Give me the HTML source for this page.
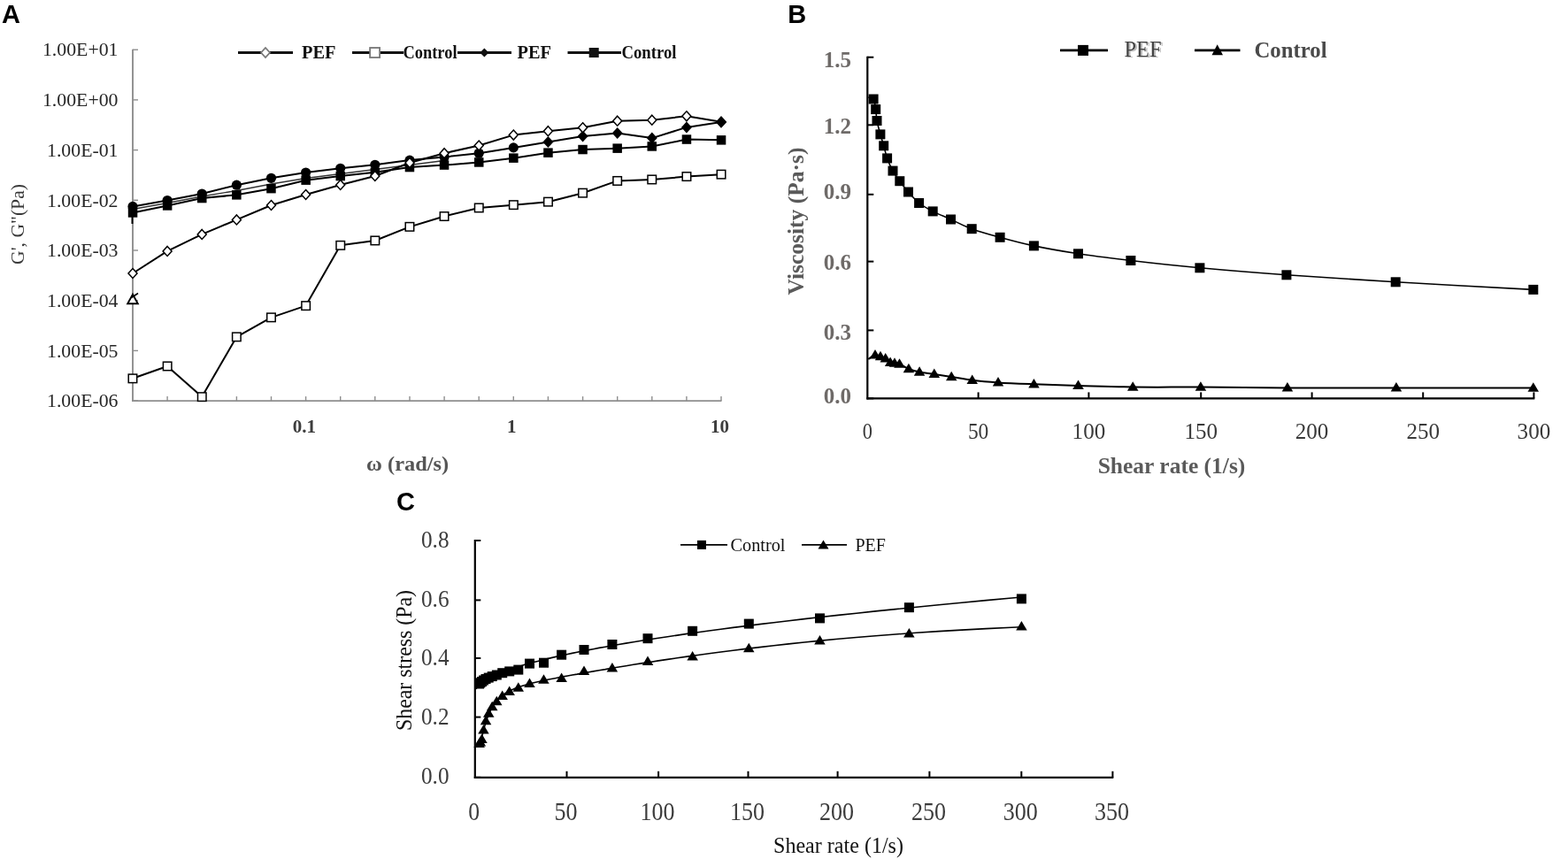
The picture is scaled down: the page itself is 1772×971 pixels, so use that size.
<!DOCTYPE html>
<html><head><meta charset="utf-8"><title>Rheology figure</title>
<style>html,body{margin:0;padding:0;background:#fff;overflow:hidden}svg{display:block}</style>
</head><body>
<svg width="1772" height="971" viewBox="0 0 1772 971">
<rect width="1772" height="971" fill="#fff"/>
<text x="2" y="26.4" font-family="Liberation Sans, Arial, sans-serif" font-size="29" font-weight="bold" fill="#000">A</text>
<text x="890.2" y="26.2" font-family="Liberation Sans, Arial, sans-serif" font-size="29" font-weight="bold" fill="#000">B</text>
<text x="448" y="576.6" font-family="Liberation Sans, Arial, sans-serif" font-size="29" font-weight="bold" fill="#000">C</text>
<line x1="150.0" y1="55.7" x2="150.0" y2="454.0" stroke="#8e8e8e" stroke-width="1.9"/>
<line x1="149.1" y1="453.1" x2="815.5" y2="453.1" stroke="#8e8e8e" stroke-width="1.9"/>
<line x1="150.0" y1="56.2" x2="156.0" y2="56.2" stroke="#8e8e8e" stroke-width="1.4"/>
<text x="133.5" y="63.4" font-family="Liberation Serif, Times New Roman, serif" font-size="21.8" font-weight="normal" fill="#262626" text-anchor="end" >1.00E+01</text>
<line x1="150.0" y1="112.9" x2="156.0" y2="112.9" stroke="#8e8e8e" stroke-width="1.4"/>
<text x="133.5" y="120.1" font-family="Liberation Serif, Times New Roman, serif" font-size="21.8" font-weight="normal" fill="#262626" text-anchor="end" >1.00E+00</text>
<line x1="150.0" y1="169.6" x2="156.0" y2="169.6" stroke="#8e8e8e" stroke-width="1.4"/>
<text x="133.5" y="176.8" font-family="Liberation Serif, Times New Roman, serif" font-size="21.8" font-weight="normal" fill="#262626" text-anchor="end" >1.00E-01</text>
<line x1="150.0" y1="226.3" x2="156.0" y2="226.3" stroke="#8e8e8e" stroke-width="1.4"/>
<text x="133.5" y="233.5" font-family="Liberation Serif, Times New Roman, serif" font-size="21.8" font-weight="normal" fill="#262626" text-anchor="end" >1.00E-02</text>
<line x1="150.0" y1="283.0" x2="156.0" y2="283.0" stroke="#8e8e8e" stroke-width="1.4"/>
<text x="133.5" y="290.2" font-family="Liberation Serif, Times New Roman, serif" font-size="21.8" font-weight="normal" fill="#262626" text-anchor="end" >1.00E-03</text>
<line x1="150.0" y1="339.7" x2="156.0" y2="339.7" stroke="#8e8e8e" stroke-width="1.4"/>
<text x="133.5" y="346.9" font-family="Liberation Serif, Times New Roman, serif" font-size="21.8" font-weight="normal" fill="#262626" text-anchor="end" >1.00E-04</text>
<line x1="150.0" y1="396.4" x2="156.0" y2="396.4" stroke="#8e8e8e" stroke-width="1.4"/>
<text x="133.5" y="403.6" font-family="Liberation Serif, Times New Roman, serif" font-size="21.8" font-weight="normal" fill="#262626" text-anchor="end" >1.00E-05</text>
<line x1="150.0" y1="453.1" x2="156.0" y2="453.1" stroke="#8e8e8e" stroke-width="1.4"/>
<text x="133.5" y="460.3" font-family="Liberation Serif, Times New Roman, serif" font-size="21.8" font-weight="normal" fill="#262626" text-anchor="end" >1.00E-06</text>
<line x1="189.1" y1="453.1" x2="189.1" y2="448.1" stroke="#8e8e8e" stroke-width="1.4"/>
<line x1="228.2" y1="453.1" x2="228.2" y2="448.1" stroke="#8e8e8e" stroke-width="1.4"/>
<line x1="267.4" y1="453.1" x2="267.4" y2="448.1" stroke="#8e8e8e" stroke-width="1.4"/>
<line x1="306.5" y1="453.1" x2="306.5" y2="448.1" stroke="#8e8e8e" stroke-width="1.4"/>
<line x1="345.6" y1="453.1" x2="345.6" y2="448.1" stroke="#8e8e8e" stroke-width="1.4"/>
<line x1="384.7" y1="453.1" x2="384.7" y2="448.1" stroke="#8e8e8e" stroke-width="1.4"/>
<line x1="423.8" y1="453.1" x2="423.8" y2="448.1" stroke="#8e8e8e" stroke-width="1.4"/>
<line x1="463.0" y1="453.1" x2="463.0" y2="448.1" stroke="#8e8e8e" stroke-width="1.4"/>
<line x1="502.1" y1="453.1" x2="502.1" y2="448.1" stroke="#8e8e8e" stroke-width="1.4"/>
<line x1="541.2" y1="453.1" x2="541.2" y2="448.1" stroke="#8e8e8e" stroke-width="1.4"/>
<line x1="580.3" y1="453.1" x2="580.3" y2="448.1" stroke="#8e8e8e" stroke-width="1.4"/>
<line x1="619.4" y1="453.1" x2="619.4" y2="448.1" stroke="#8e8e8e" stroke-width="1.4"/>
<line x1="658.6" y1="453.1" x2="658.6" y2="448.1" stroke="#8e8e8e" stroke-width="1.4"/>
<line x1="697.7" y1="453.1" x2="697.7" y2="448.1" stroke="#8e8e8e" stroke-width="1.4"/>
<line x1="736.8" y1="453.1" x2="736.8" y2="448.1" stroke="#8e8e8e" stroke-width="1.4"/>
<line x1="775.9" y1="453.1" x2="775.9" y2="448.1" stroke="#8e8e8e" stroke-width="1.4"/>
<line x1="815.0" y1="453.1" x2="815.0" y2="448.1" stroke="#8e8e8e" stroke-width="1.4"/>
<text x="343.8" y="489.2" font-family="Liberation Serif, Times New Roman, serif" font-size="21" font-weight="bold" fill="#3d3d3d" text-anchor="middle" >0.1</text>
<text x="578.3" y="489.2" font-family="Liberation Serif, Times New Roman, serif" font-size="21" font-weight="bold" fill="#3d3d3d" text-anchor="middle" >1</text>
<text x="813.5" y="489.2" font-family="Liberation Serif, Times New Roman, serif" font-size="21" font-weight="bold" fill="#3d3d3d" text-anchor="middle" >10</text>
<text x="460.6" y="532.0" font-family="Liberation Serif, Times New Roman, serif" font-size="22.5" font-weight="bold" fill="#555" text-anchor="middle" textLength="93" lengthAdjust="spacingAndGlyphs" >ω (rad/s)</text>
<text transform="translate(26.8,253.5) rotate(-90)" x="0" y="0" font-family="Liberation Serif, Times New Roman, serif" font-size="21.7" fill="#383838" text-anchor="middle">G', G"(Pa)</text>
<polyline points="150.0,236.5 189.1,229.5 228.2,222.0 267.4,215.5 306.5,208.0 345.6,201.5 384.7,196.5 423.8,191.5 463.0,186.5 502.1,181.5" fill="none" stroke="#333" stroke-width="1.3" stroke-linejoin="round" />
<polyline points="150.0,240.5 189.1,232.5 228.2,224.0 267.4,220.3 306.5,213.2 345.6,203.7 384.7,199.0 423.8,194.8 463.0,189.0 502.1,186.6 541.2,183.5 580.3,178.7 619.4,172.7 658.6,169.1 697.7,167.7 736.8,165.5 775.9,157.6 815.0,158.3" fill="none" stroke="#000" stroke-width="2" stroke-linejoin="round" />
<polyline points="150.0,233.4 189.1,226.5 228.2,219.0 267.4,209.2 306.5,201.3 345.6,195.0 384.7,190.3 423.8,186.3 463.0,181.1 502.1,177.5 541.2,173.2 580.3,166.9 619.4,160.5 658.6,154.0 697.7,150.4 736.8,156.1 775.9,143.9 815.0,138.1" fill="none" stroke="#000" stroke-width="2" stroke-linejoin="round" />
<polyline points="150.0,309.0 189.1,283.9 228.2,264.9 267.4,248.4 306.5,232.0 345.6,220.0 384.7,209.0 423.8,199.0 463.0,184.0 502.1,173.2 541.2,164.5 580.3,152.6 619.4,148.2 658.6,144.3 697.7,136.7 736.8,135.7 775.9,131.3 815.0,137.8" fill="none" stroke="#000" stroke-width="2" stroke-linejoin="round" />
<polyline points="150.0,427.8 189.1,414.0 228.2,448.6 267.4,380.8 306.5,358.9 345.6,345.6 384.7,277.3 423.8,272.0 463.0,256.4 502.1,244.5 541.2,235.0 580.3,231.7 619.4,228.2 658.6,218.2 697.7,204.4 736.8,203.0 775.9,199.6 815.0,197.2" fill="none" stroke="#000" stroke-width="2" stroke-linejoin="round" />
<rect x="144.8" y="235.2" width="10.5" height="10.5" fill="#000" stroke="none" stroke-width="0"/>
<rect x="183.9" y="227.2" width="10.5" height="10.5" fill="#000" stroke="none" stroke-width="0"/>
<rect x="223.0" y="218.8" width="10.5" height="10.5" fill="#000" stroke="none" stroke-width="0"/>
<rect x="262.1" y="215.1" width="10.5" height="10.5" fill="#000" stroke="none" stroke-width="0"/>
<rect x="301.2" y="207.9" width="10.5" height="10.5" fill="#000" stroke="none" stroke-width="0"/>
<rect x="340.4" y="198.4" width="10.5" height="10.5" fill="#000" stroke="none" stroke-width="0"/>
<rect x="379.5" y="193.8" width="10.5" height="10.5" fill="#000" stroke="none" stroke-width="0"/>
<rect x="418.6" y="189.6" width="10.5" height="10.5" fill="#000" stroke="none" stroke-width="0"/>
<rect x="457.7" y="183.8" width="10.5" height="10.5" fill="#000" stroke="none" stroke-width="0"/>
<rect x="496.8" y="181.3" width="10.5" height="10.5" fill="#000" stroke="none" stroke-width="0"/>
<rect x="536.0" y="178.2" width="10.5" height="10.5" fill="#000" stroke="none" stroke-width="0"/>
<rect x="575.1" y="173.4" width="10.5" height="10.5" fill="#000" stroke="none" stroke-width="0"/>
<rect x="614.2" y="167.4" width="10.5" height="10.5" fill="#000" stroke="none" stroke-width="0"/>
<rect x="653.3" y="163.8" width="10.5" height="10.5" fill="#000" stroke="none" stroke-width="0"/>
<rect x="692.4" y="162.4" width="10.5" height="10.5" fill="#000" stroke="none" stroke-width="0"/>
<rect x="731.5" y="160.2" width="10.5" height="10.5" fill="#000" stroke="none" stroke-width="0"/>
<rect x="770.7" y="152.3" width="10.5" height="10.5" fill="#000" stroke="none" stroke-width="0"/>
<rect x="809.8" y="153.1" width="10.5" height="10.5" fill="#000" stroke="none" stroke-width="0"/>
<circle cx="150.0" cy="233.4" r="5.6" fill="#000"/>
<circle cx="189.1" cy="226.5" r="5.6" fill="#000"/>
<circle cx="228.2" cy="219.0" r="5.6" fill="#000"/>
<circle cx="267.4" cy="209.2" r="5.6" fill="#000"/>
<circle cx="306.5" cy="201.3" r="5.6" fill="#000"/>
<circle cx="345.6" cy="195.0" r="5.6" fill="#000"/>
<circle cx="384.7" cy="190.3" r="5.6" fill="#000"/>
<circle cx="423.8" cy="186.3" r="5.6" fill="#000"/>
<circle cx="463.0" cy="181.1" r="5.6" fill="#000"/>
<circle cx="502.1" cy="177.5" r="5.6" fill="#000"/>
<circle cx="541.2" cy="173.2" r="5.6" fill="#000"/>
<circle cx="580.3" cy="166.9" r="5.6" fill="#000"/>
<polygon points="619.4,154.0 625.4,160.5 619.4,167.0 613.4,160.5" fill="#000" stroke="none" stroke-width="0"/>
<polygon points="658.6,147.5 664.6,154.0 658.6,160.5 652.6,154.0" fill="#000" stroke="none" stroke-width="0"/>
<polygon points="697.7,143.9 703.7,150.4 697.7,156.9 691.7,150.4" fill="#000" stroke="none" stroke-width="0"/>
<polygon points="736.8,149.6 742.8,156.1 736.8,162.6 730.8,156.1" fill="#000" stroke="none" stroke-width="0"/>
<polygon points="775.9,137.4 781.9,143.9 775.9,150.4 769.9,143.9" fill="#000" stroke="none" stroke-width="0"/>
<polygon points="815.0,131.6 821.0,138.1 815.0,144.6 809.0,138.1" fill="#000" stroke="none" stroke-width="0"/>
<polygon points="150.0,303.5 155.0,309.0 150.0,314.5 145.0,309.0" fill="#fff" stroke="#000" stroke-width="1.5"/>
<polygon points="189.1,278.4 194.1,283.9 189.1,289.4 184.1,283.9" fill="#fff" stroke="#000" stroke-width="1.5"/>
<polygon points="228.2,259.4 233.2,264.9 228.2,270.4 223.2,264.9" fill="#fff" stroke="#000" stroke-width="1.5"/>
<polygon points="267.4,242.9 272.4,248.4 267.4,253.9 262.4,248.4" fill="#fff" stroke="#000" stroke-width="1.5"/>
<polygon points="306.5,226.5 311.5,232.0 306.5,237.5 301.5,232.0" fill="#fff" stroke="#000" stroke-width="1.5"/>
<polygon points="345.6,214.5 350.6,220.0 345.6,225.5 340.6,220.0" fill="#fff" stroke="#000" stroke-width="1.5"/>
<polygon points="384.7,203.5 389.7,209.0 384.7,214.5 379.7,209.0" fill="#fff" stroke="#000" stroke-width="1.5"/>
<polygon points="423.8,193.5 428.8,199.0 423.8,204.5 418.8,199.0" fill="#fff" stroke="#000" stroke-width="1.5"/>
<polygon points="463.0,178.5 468.0,184.0 463.0,189.5 458.0,184.0" fill="#fff" stroke="#000" stroke-width="1.5"/>
<polygon points="502.1,167.7 507.1,173.2 502.1,178.7 497.1,173.2" fill="#fff" stroke="#000" stroke-width="1.5"/>
<polygon points="541.2,159.0 546.2,164.5 541.2,170.0 536.2,164.5" fill="#fff" stroke="#000" stroke-width="1.5"/>
<polygon points="580.3,147.1 585.3,152.6 580.3,158.1 575.3,152.6" fill="#fff" stroke="#000" stroke-width="1.5"/>
<polygon points="619.4,142.7 624.4,148.2 619.4,153.7 614.4,148.2" fill="#fff" stroke="#000" stroke-width="1.5"/>
<polygon points="658.6,138.8 663.6,144.3 658.6,149.8 653.6,144.3" fill="#fff" stroke="#000" stroke-width="1.5"/>
<polygon points="697.7,131.2 702.7,136.7 697.7,142.2 692.7,136.7" fill="#fff" stroke="#000" stroke-width="1.5"/>
<polygon points="736.8,130.2 741.8,135.7 736.8,141.2 731.8,135.7" fill="#fff" stroke="#000" stroke-width="1.5"/>
<polygon points="775.9,125.8 780.9,131.3 775.9,136.8 770.9,131.3" fill="#fff" stroke="#000" stroke-width="1.5"/>
<polygon points="815.0,132.3 820.0,137.8 815.0,143.3 810.0,137.8" fill="#fff" stroke="#000" stroke-width="1.5"/>
<rect x="145.2" y="423.1" width="9.5" height="9.5" fill="#fff" stroke="#000" stroke-width="1.5"/>
<rect x="184.4" y="409.2" width="9.5" height="9.5" fill="#fff" stroke="#000" stroke-width="1.5"/>
<rect x="223.5" y="443.9" width="9.5" height="9.5" fill="#fff" stroke="#000" stroke-width="1.5"/>
<rect x="262.6" y="376.1" width="9.5" height="9.5" fill="#fff" stroke="#000" stroke-width="1.5"/>
<rect x="301.7" y="354.1" width="9.5" height="9.5" fill="#fff" stroke="#000" stroke-width="1.5"/>
<rect x="340.9" y="340.9" width="9.5" height="9.5" fill="#fff" stroke="#000" stroke-width="1.5"/>
<rect x="380.0" y="272.6" width="9.5" height="9.5" fill="#fff" stroke="#000" stroke-width="1.5"/>
<rect x="419.1" y="267.2" width="9.5" height="9.5" fill="#fff" stroke="#000" stroke-width="1.5"/>
<rect x="458.2" y="251.6" width="9.5" height="9.5" fill="#fff" stroke="#000" stroke-width="1.5"/>
<rect x="497.3" y="239.8" width="9.5" height="9.5" fill="#fff" stroke="#000" stroke-width="1.5"/>
<rect x="536.5" y="230.2" width="9.5" height="9.5" fill="#fff" stroke="#000" stroke-width="1.5"/>
<rect x="575.6" y="226.9" width="9.5" height="9.5" fill="#fff" stroke="#000" stroke-width="1.5"/>
<rect x="614.7" y="223.4" width="9.5" height="9.5" fill="#fff" stroke="#000" stroke-width="1.5"/>
<rect x="653.8" y="213.4" width="9.5" height="9.5" fill="#fff" stroke="#000" stroke-width="1.5"/>
<rect x="692.9" y="199.7" width="9.5" height="9.5" fill="#fff" stroke="#000" stroke-width="1.5"/>
<rect x="732.0" y="198.2" width="9.5" height="9.5" fill="#fff" stroke="#000" stroke-width="1.5"/>
<rect x="771.2" y="194.8" width="9.5" height="9.5" fill="#fff" stroke="#000" stroke-width="1.5"/>
<rect x="810.3" y="192.4" width="9.5" height="9.5" fill="#fff" stroke="#000" stroke-width="1.5"/>
<polygon points="815.0,131.6 821.0,138.1 815.0,144.6 809.0,138.1" fill="#000" stroke="none" stroke-width="0"/>
<polygon points="150.0,332.7 155.8,343.2 144.2,343.2" fill="#fff" stroke="#000" stroke-width="1.9"/>
<line x1="148.5" y1="336.5" x2="156.0" y2="331.5" stroke="#000" stroke-width="1.6"/>
<line x1="149.5" y1="245.0" x2="149.5" y2="253.0" stroke="#000" stroke-width="2"/>
<line x1="269.0" y1="59.5" x2="331.0" y2="59.5" stroke="#111" stroke-width="3"/>
<polygon points="300.0,54.0 305.0,59.5 300.0,65.0 295.0,59.5" fill="#fff" stroke="#777" stroke-width="1.8"/>
<text x="341.0" y="66.2" font-family="Liberation Serif, Times New Roman, serif" font-size="20" font-weight="bold" fill="#111" text-anchor="start" textLength="38.5" lengthAdjust="spacingAndGlyphs" >PEF</text>
<line x1="398.0" y1="59.5" x2="456.0" y2="59.5" stroke="#111" stroke-width="3"/>
<rect x="418.1" y="54.0" width="11" height="11" fill="#fff" stroke="#777" stroke-width="1.8"/>
<text x="455.5" y="66.2" font-family="Liberation Serif, Times New Roman, serif" font-size="20" font-weight="bold" fill="#111" text-anchor="start" textLength="61" lengthAdjust="spacingAndGlyphs" >Control</text>
<line x1="517.0" y1="59.5" x2="578.0" y2="59.5" stroke="#111" stroke-width="3"/>
<polygon points="547.4,54.5 552.4,59.5 547.4,64.5 542.4,59.5" fill="#111" stroke="none" stroke-width="0"/>
<text x="584.5" y="66.2" font-family="Liberation Serif, Times New Roman, serif" font-size="20" font-weight="bold" fill="#111" text-anchor="start" textLength="38.5" lengthAdjust="spacingAndGlyphs" >PEF</text>
<line x1="641.5" y1="59.5" x2="702.0" y2="59.5" stroke="#111" stroke-width="3"/>
<rect x="665.7" y="54.0" width="11" height="11" fill="#111" stroke="none" stroke-width="0"/>
<text x="702.5" y="66.2" font-family="Liberation Serif, Times New Roman, serif" font-size="20" font-weight="bold" fill="#111" text-anchor="start" textLength="62" lengthAdjust="spacingAndGlyphs" >Control</text>
<line x1="980.3" y1="63.8" x2="980.3" y2="451.4" stroke="#000" stroke-width="2.2"/>
<line x1="979.3" y1="450.4" x2="1734.3" y2="450.4" stroke="#000" stroke-width="2.2"/>
<line x1="980.3" y1="450.4" x2="987.3" y2="450.4" stroke="#000" stroke-width="2"/>
<text x="962.0" y="455.9" font-family="Liberation Serif, Times New Roman, serif" font-size="25" font-weight="bold" fill="#6e6a68" text-anchor="end" >0.0</text>
<line x1="980.3" y1="373.4" x2="987.3" y2="373.4" stroke="#000" stroke-width="2"/>
<text x="962.0" y="383.5" font-family="Liberation Serif, Times New Roman, serif" font-size="25" font-weight="bold" fill="#6e6a68" text-anchor="end" >0.3</text>
<line x1="980.3" y1="295.6" x2="987.3" y2="295.6" stroke="#000" stroke-width="2"/>
<text x="962.0" y="305.1" font-family="Liberation Serif, Times New Roman, serif" font-size="25" font-weight="bold" fill="#6e6a68" text-anchor="end" >0.6</text>
<line x1="980.3" y1="219.8" x2="987.3" y2="219.8" stroke="#000" stroke-width="2"/>
<text x="962.0" y="225.3" font-family="Liberation Serif, Times New Roman, serif" font-size="25" font-weight="bold" fill="#6e6a68" text-anchor="end" >0.9</text>
<line x1="980.3" y1="141.3" x2="987.3" y2="141.3" stroke="#000" stroke-width="2"/>
<text x="962.0" y="150.8" font-family="Liberation Serif, Times New Roman, serif" font-size="25" font-weight="bold" fill="#6e6a68" text-anchor="end" >1.2</text>
<line x1="980.3" y1="64.7" x2="987.3" y2="64.7" stroke="#000" stroke-width="2"/>
<text x="962.0" y="75.7" font-family="Liberation Serif, Times New Roman, serif" font-size="25" font-weight="bold" fill="#6e6a68" text-anchor="end" >1.5</text>
<text x="980.3" y="496.0" font-family="Liberation Serif, Times New Roman, serif" font-size="26" font-weight="normal" fill="#3a3a3a" text-anchor="middle" textLength="11.2" lengthAdjust="spacingAndGlyphs" >0</text>
<line x1="1105.6" y1="450.4" x2="1105.6" y2="443.4" stroke="#000" stroke-width="2"/>
<text x="1105.6" y="496.0" font-family="Liberation Serif, Times New Roman, serif" font-size="26" font-weight="normal" fill="#3a3a3a" text-anchor="middle" textLength="23.4" lengthAdjust="spacingAndGlyphs" >50</text>
<line x1="1230.4" y1="450.4" x2="1230.4" y2="443.4" stroke="#000" stroke-width="2"/>
<text x="1230.4" y="496.0" font-family="Liberation Serif, Times New Roman, serif" font-size="26" font-weight="normal" fill="#3a3a3a" text-anchor="middle" textLength="37.6" lengthAdjust="spacingAndGlyphs" >100</text>
<line x1="1357.2" y1="450.4" x2="1357.2" y2="443.4" stroke="#000" stroke-width="2"/>
<text x="1357.2" y="496.0" font-family="Liberation Serif, Times New Roman, serif" font-size="26" font-weight="normal" fill="#3a3a3a" text-anchor="middle" textLength="37.6" lengthAdjust="spacingAndGlyphs" >150</text>
<line x1="1482.6" y1="450.4" x2="1482.6" y2="443.4" stroke="#000" stroke-width="2"/>
<text x="1482.6" y="496.0" font-family="Liberation Serif, Times New Roman, serif" font-size="26" font-weight="normal" fill="#3a3a3a" text-anchor="middle" textLength="37.6" lengthAdjust="spacingAndGlyphs" >200</text>
<line x1="1608.2" y1="450.4" x2="1608.2" y2="443.4" stroke="#000" stroke-width="2"/>
<text x="1608.2" y="496.0" font-family="Liberation Serif, Times New Roman, serif" font-size="26" font-weight="normal" fill="#3a3a3a" text-anchor="middle" textLength="37.6" lengthAdjust="spacingAndGlyphs" >250</text>
<line x1="1733.4" y1="450.4" x2="1733.4" y2="443.4" stroke="#000" stroke-width="2"/>
<text x="1733.4" y="496.0" font-family="Liberation Serif, Times New Roman, serif" font-size="26" font-weight="normal" fill="#3a3a3a" text-anchor="middle" textLength="37.6" lengthAdjust="spacingAndGlyphs" >300</text>
<text x="1324.0" y="535.0" font-family="Liberation Serif, Times New Roman, serif" font-size="25.5" font-weight="bold" fill="#5a5a5a" text-anchor="middle" >Shear rate (1/s)</text>
<text transform="translate(908,250) rotate(-90)" x="0" y="0" font-family="Liberation Serif, Times New Roman, serif" font-size="25.5" font-weight="bold" fill="#5a5a5a" text-anchor="middle">Viscosity (Pa·s)</text>
<path d="M981.3,110.0 C982.3,110.3 985.7,109.7 987.1,112.0 C988.5,114.3 989.1,119.5 989.7,123.6 C990.4,127.7 990.1,131.8 991.0,136.5 C991.9,141.2 993.6,147.2 994.9,151.9 C996.2,156.6 997.4,160.3 998.7,164.8 C1000.0,169.3 1000.9,174.2 1002.6,178.9 C1004.3,183.6 1006.6,188.8 1009.0,193.1 C1011.4,197.4 1013.9,200.7 1016.8,204.7 C1019.7,208.7 1022.9,212.9 1026.5,217.0 C1030.1,221.1 1034.0,225.8 1038.6,229.5 C1043.2,233.2 1048.2,235.8 1054.2,238.9 C1060.2,242.0 1067.2,244.7 1074.5,248.0 C1081.8,251.3 1088.9,255.3 1098.2,258.7 C1107.5,262.1 1118.4,265.1 1130.1,268.3 C1141.8,271.5 1153.7,274.8 1168.4,277.9 C1183.1,281.0 1200.2,284.0 1218.5,286.8 C1236.8,289.6 1255.0,291.8 1277.9,294.5 C1300.8,297.2 1326.6,300.1 1355.9,302.8 C1385.2,305.5 1417.0,308.1 1453.9,310.8 C1490.8,313.5 1530.7,316.0 1577.2,318.8 C1623.7,321.6 1706.9,326.0 1732.8,327.4" fill="none" stroke="#000" stroke-width="1.6"/>
<path d="M981.3,406.0 C982.6,405.2 986.7,401.7 989.0,401.2 C991.3,400.7 993.0,402.3 995.0,403.0 C997.0,403.7 998.9,404.2 1000.7,405.3 C1002.6,406.4 1004.4,408.9 1006.1,409.8 C1007.8,410.7 1009.3,410.2 1011.0,410.5 C1012.7,410.8 1013.9,410.5 1016.5,411.6 C1019.1,412.7 1023.1,415.5 1026.9,417.0 C1030.7,418.5 1034.3,419.6 1039.1,420.6 C1043.9,421.6 1049.8,422.0 1055.8,422.9 C1061.8,423.8 1068.0,424.9 1075.2,426.0 C1082.4,427.1 1089.9,428.6 1098.7,429.7 C1107.5,430.8 1116.4,431.6 1128.0,432.4 C1139.6,433.2 1153.3,433.7 1168.4,434.3 C1183.5,434.9 1199.9,435.4 1218.5,435.9 C1237.1,436.4 1257.1,437.2 1280.2,437.5 C1303.3,437.8 1327.8,437.5 1356.9,437.6 C1386.0,437.8 1418.1,438.3 1454.9,438.4 C1491.7,438.5 1531.6,438.4 1577.9,438.4 C1624.2,438.4 1707.0,438.6 1732.8,438.6" fill="none" stroke="#000" stroke-width="2"/>
<rect x="981.6" y="106.5" width="11" height="11" fill="#000" stroke="none" stroke-width="0"/>
<rect x="984.2" y="118.1" width="11" height="11" fill="#000" stroke="none" stroke-width="0"/>
<rect x="985.5" y="131.0" width="11" height="11" fill="#000" stroke="none" stroke-width="0"/>
<rect x="989.4" y="146.4" width="11" height="11" fill="#000" stroke="none" stroke-width="0"/>
<rect x="993.2" y="159.3" width="11" height="11" fill="#000" stroke="none" stroke-width="0"/>
<rect x="997.1" y="173.4" width="11" height="11" fill="#000" stroke="none" stroke-width="0"/>
<rect x="1003.5" y="187.6" width="11" height="11" fill="#000" stroke="none" stroke-width="0"/>
<rect x="1011.3" y="199.2" width="11" height="11" fill="#000" stroke="none" stroke-width="0"/>
<rect x="1021.0" y="211.5" width="11" height="11" fill="#000" stroke="none" stroke-width="0"/>
<rect x="1033.1" y="224.0" width="11" height="11" fill="#000" stroke="none" stroke-width="0"/>
<rect x="1048.7" y="233.4" width="11" height="11" fill="#000" stroke="none" stroke-width="0"/>
<rect x="1069.0" y="242.5" width="11" height="11" fill="#000" stroke="none" stroke-width="0"/>
<rect x="1092.7" y="253.2" width="11" height="11" fill="#000" stroke="none" stroke-width="0"/>
<rect x="1124.6" y="262.8" width="11" height="11" fill="#000" stroke="none" stroke-width="0"/>
<rect x="1162.9" y="272.4" width="11" height="11" fill="#000" stroke="none" stroke-width="0"/>
<rect x="1213.0" y="281.3" width="11" height="11" fill="#000" stroke="none" stroke-width="0"/>
<rect x="1272.4" y="289.0" width="11" height="11" fill="#000" stroke="none" stroke-width="0"/>
<rect x="1350.4" y="297.3" width="11" height="11" fill="#000" stroke="none" stroke-width="0"/>
<rect x="1448.4" y="305.3" width="11" height="11" fill="#000" stroke="none" stroke-width="0"/>
<rect x="1571.7" y="313.3" width="11" height="11" fill="#000" stroke="none" stroke-width="0"/>
<rect x="1727.3" y="321.9" width="11" height="11" fill="#000" stroke="none" stroke-width="0"/>
<polygon points="989.0,394.9 995.2,405.4 982.8,405.4" fill="#000" stroke="none" stroke-width="0"/>
<polygon points="995.0,396.7 1001.2,407.2 988.8,407.2" fill="#000" stroke="none" stroke-width="0"/>
<polygon points="1000.7,399.0 1007.0,409.5 994.5,409.5" fill="#000" stroke="none" stroke-width="0"/>
<polygon points="1006.1,403.5 1012.4,414.0 999.9,414.0" fill="#000" stroke="none" stroke-width="0"/>
<polygon points="1011.0,404.2 1017.2,414.7 1004.8,414.7" fill="#000" stroke="none" stroke-width="0"/>
<polygon points="1016.5,405.3 1022.8,415.8 1010.2,415.8" fill="#000" stroke="none" stroke-width="0"/>
<polygon points="1026.9,410.7 1033.2,421.2 1020.7,421.2" fill="#000" stroke="none" stroke-width="0"/>
<polygon points="1039.1,414.3 1045.3,424.8 1032.8,424.8" fill="#000" stroke="none" stroke-width="0"/>
<polygon points="1055.8,416.6 1062.0,427.1 1049.5,427.1" fill="#000" stroke="none" stroke-width="0"/>
<polygon points="1075.2,419.7 1081.5,430.2 1069.0,430.2" fill="#000" stroke="none" stroke-width="0"/>
<polygon points="1098.7,423.4 1105.0,433.9 1092.5,433.9" fill="#000" stroke="none" stroke-width="0"/>
<polygon points="1128.0,426.1 1134.2,436.6 1121.8,436.6" fill="#000" stroke="none" stroke-width="0"/>
<polygon points="1168.4,428.0 1174.7,438.5 1162.2,438.5" fill="#000" stroke="none" stroke-width="0"/>
<polygon points="1218.5,429.6 1224.8,440.1 1212.2,440.1" fill="#000" stroke="none" stroke-width="0"/>
<polygon points="1280.2,431.2 1286.5,441.7 1274.0,441.7" fill="#000" stroke="none" stroke-width="0"/>
<polygon points="1356.9,431.3 1363.2,441.8 1350.7,441.8" fill="#000" stroke="none" stroke-width="0"/>
<polygon points="1454.9,432.1 1461.2,442.6 1448.7,442.6" fill="#000" stroke="none" stroke-width="0"/>
<polygon points="1577.9,432.1 1584.2,442.6 1571.7,442.6" fill="#000" stroke="none" stroke-width="0"/>
<polygon points="1732.8,432.3 1739.0,442.8 1726.5,442.8" fill="#000" stroke="none" stroke-width="0"/>
<line x1="1198.0" y1="56.9" x2="1252.0" y2="56.9" stroke="#000" stroke-width="2.6"/>
<rect x="1218.0" y="50.9" width="12" height="12" fill="#000" stroke="none" stroke-width="0"/>
<text x="1272.5" y="64.6" font-family="Liberation Serif, Times New Roman, serif" font-size="25.5" fill="#bbb" textLength="42" lengthAdjust="spacingAndGlyphs">PEF</text>
<text x="1270.5" y="64" font-family="Liberation Serif, Times New Roman, serif" font-size="25.5" fill="#444" textLength="42" lengthAdjust="spacingAndGlyphs">PEF</text>
<line x1="1350.0" y1="56.9" x2="1401.5" y2="56.9" stroke="#000" stroke-width="2.6"/>
<polygon points="1375.7,50.3 1382.0,62.3 1369.5,62.3" fill="#000" stroke="none" stroke-width="0"/>
<text x="1417.5" y="64.6" font-family="Liberation Serif, Times New Roman, serif" font-size="25" font-weight="bold" fill="#4a4a4a" text-anchor="start" textLength="82" lengthAdjust="spacingAndGlyphs" >Control</text>
<line x1="536.8" y1="610.0" x2="536.8" y2="879.8" stroke="#000" stroke-width="2.2"/>
<line x1="535.8" y1="878.8" x2="1258.3" y2="878.8" stroke="#000" stroke-width="2.2"/>
<line x1="536.8" y1="878.8" x2="543.3" y2="878.8" stroke="#000" stroke-width="2"/>
<text x="507.5" y="885.9" font-family="Liberation Serif, Times New Roman, serif" font-size="28" font-weight="normal" fill="#3c3c3c" text-anchor="end" textLength="31.5" lengthAdjust="spacingAndGlyphs" >0.0</text>
<line x1="536.8" y1="810.6" x2="543.3" y2="810.6" stroke="#000" stroke-width="2"/>
<text x="507.5" y="819.2" font-family="Liberation Serif, Times New Roman, serif" font-size="28" font-weight="normal" fill="#3c3c3c" text-anchor="end" textLength="31.5" lengthAdjust="spacingAndGlyphs" >0.2</text>
<line x1="536.8" y1="744.0" x2="543.3" y2="744.0" stroke="#000" stroke-width="2"/>
<text x="507.5" y="751.7" font-family="Liberation Serif, Times New Roman, serif" font-size="28" font-weight="normal" fill="#3c3c3c" text-anchor="end" textLength="31.5" lengthAdjust="spacingAndGlyphs" >0.4</text>
<line x1="536.8" y1="678.4" x2="543.3" y2="678.4" stroke="#000" stroke-width="2"/>
<text x="507.5" y="685.7" font-family="Liberation Serif, Times New Roman, serif" font-size="28" font-weight="normal" fill="#3c3c3c" text-anchor="end" textLength="31.5" lengthAdjust="spacingAndGlyphs" >0.6</text>
<line x1="536.8" y1="611.0" x2="543.3" y2="611.0" stroke="#000" stroke-width="2"/>
<text x="507.5" y="618.5" font-family="Liberation Serif, Times New Roman, serif" font-size="28" font-weight="normal" fill="#3c3c3c" text-anchor="end" textLength="31.5" lengthAdjust="spacingAndGlyphs" >0.8</text>
<text x="535.7" y="927.0" font-family="Liberation Serif, Times New Roman, serif" font-size="29" font-weight="normal" fill="#3c3c3c" text-anchor="middle" textLength="12.8" lengthAdjust="spacingAndGlyphs" >0</text>
<line x1="640.5" y1="878.8" x2="640.5" y2="871.8" stroke="#000" stroke-width="2"/>
<text x="639.5" y="927.0" font-family="Liberation Serif, Times New Roman, serif" font-size="29" font-weight="normal" fill="#3c3c3c" text-anchor="middle" textLength="26" lengthAdjust="spacingAndGlyphs" >50</text>
<line x1="744.1" y1="878.8" x2="744.1" y2="871.8" stroke="#000" stroke-width="2"/>
<text x="743.1" y="927.0" font-family="Liberation Serif, Times New Roman, serif" font-size="29" font-weight="normal" fill="#3c3c3c" text-anchor="middle" textLength="39" lengthAdjust="spacingAndGlyphs" >100</text>
<line x1="845.5" y1="878.8" x2="845.5" y2="871.8" stroke="#000" stroke-width="2"/>
<text x="844.5" y="927.0" font-family="Liberation Serif, Times New Roman, serif" font-size="29" font-weight="normal" fill="#3c3c3c" text-anchor="middle" textLength="39" lengthAdjust="spacingAndGlyphs" >150</text>
<line x1="946.6" y1="878.8" x2="946.6" y2="871.8" stroke="#000" stroke-width="2"/>
<text x="945.6" y="927.0" font-family="Liberation Serif, Times New Roman, serif" font-size="29" font-weight="normal" fill="#3c3c3c" text-anchor="middle" textLength="39" lengthAdjust="spacingAndGlyphs" >200</text>
<line x1="1050.4" y1="878.8" x2="1050.4" y2="871.8" stroke="#000" stroke-width="2"/>
<text x="1049.4" y="927.0" font-family="Liberation Serif, Times New Roman, serif" font-size="29" font-weight="normal" fill="#3c3c3c" text-anchor="middle" textLength="39" lengthAdjust="spacingAndGlyphs" >250</text>
<line x1="1154.3" y1="878.8" x2="1154.3" y2="871.8" stroke="#000" stroke-width="2"/>
<text x="1153.3" y="927.0" font-family="Liberation Serif, Times New Roman, serif" font-size="29" font-weight="normal" fill="#3c3c3c" text-anchor="middle" textLength="39" lengthAdjust="spacingAndGlyphs" >300</text>
<line x1="1257.4" y1="878.8" x2="1257.4" y2="871.8" stroke="#000" stroke-width="2"/>
<text x="1256.4" y="927.0" font-family="Liberation Serif, Times New Roman, serif" font-size="29" font-weight="normal" fill="#3c3c3c" text-anchor="middle" textLength="39" lengthAdjust="spacingAndGlyphs" >350</text>
<text x="947.5" y="963.6" font-family="Liberation Serif, Times New Roman, serif" font-size="24.6" font-weight="normal" fill="#111" text-anchor="middle" textLength="147" lengthAdjust="spacingAndGlyphs" >Shear rate (1/s)</text>
<text transform="translate(464.5,746.5) rotate(-90)" x="0" y="0" font-family="Liberation Serif, Times New Roman, serif" font-size="25" fill="#111" text-anchor="middle" textLength="159" lengthAdjust="spacingAndGlyphs">Shear stress (Pa)</text>
<polyline points="537.9,778.9 538.0,778.7 538.1,778.6 538.1,778.5 538.2,778.4 538.3,778.3 538.4,778.1 538.4,778.0 538.5,777.9 538.6,777.7 538.7,777.6 538.8,777.4 538.9,777.3 539.0,777.1 539.1,777.0 539.3,776.8 539.4,776.6 539.5,776.5 539.7,776.3 539.8,776.1 540.0,775.9 540.1,775.7 540.3,775.5 540.5,775.3 540.7,775.1 540.9,774.9 541.1,774.7 541.3,774.5 541.5,774.3 541.8,774.0 542.0,773.8 542.3,773.5 542.6,773.3 542.9,773.0 543.2,772.8 543.5,772.5 543.9,772.2 544.2,771.9 544.6,771.7 545.0,771.4 545.4,771.1 545.8,770.7 546.3,770.4 546.8,770.1 547.3,769.8 547.8,769.4 548.4,769.1 548.9,768.7 549.6,768.3 550.2,768.0 550.9,767.6 551.6,767.2 552.3,766.8 553.1,766.3 553.9,765.9 554.8,765.5 555.7,765.0 556.6,764.6 557.6,764.1 558.7,763.6 559.8,763.1 560.9,762.6 562.1,762.1 563.4,761.5 564.8,761.0 566.2,760.4 567.6,759.8 569.2,759.2 570.8,758.6 572.5,758.0 574.3,757.4 576.2,756.7 578.1,756.0 580.2,755.3 582.4,754.6 584.7,753.9 587.1,753.2 589.6,752.4 592.2,751.6 595.0,750.8 597.9,750.0 601.0,749.2 604.2,748.3 607.6,747.4 611.1,746.5 614.8,745.6 618.8,744.6 622.9,743.6 627.2,742.6 631.7,741.6 636.4,740.6 641.4,739.5 646.7,738.4 652.2,737.3 657.9,736.1 664.0,734.9 670.4,733.7 677.0,732.4 684.1,731.2 691.4,729.8 699.2,728.5 707.3,727.1 715.8,725.7 724.8,724.2 734.2,722.8 744.1,721.2 754.4,719.7 765.3,718.1 776.7,716.4 788.7,714.7 801.3,713.0 814.6,711.2 828.5,709.4 843.1,707.6 858.4,705.6 874.5,703.7 891.3,701.7 909.1,699.6 927.7,697.5 947.2,695.4 967.8,693.2 989.3,690.9 1012.0,688.6 1035.7,686.2 1060.7,683.7 1086.9,681.2 1114.4,678.6 1143.3,676.0 1154.4,675.0" fill="none" stroke="#000" stroke-width="1.6" stroke-linejoin="round" />
<polyline points="541.5,841.6 541.8,841.6 542.0,841.4 542.3,840.9 542.6,840.2 542.9,839.3 543.2,838.3 543.5,837.2 543.9,835.9 544.2,834.5 544.6,832.9 545.0,831.3 545.4,829.7 545.8,827.9 546.3,826.1 546.8,824.3 547.3,822.5 547.8,820.6 548.4,818.7 548.9,816.8 549.6,814.9 550.2,813.0 550.9,811.1 551.6,809.3 552.3,807.5 553.1,805.7 553.9,803.9 554.8,802.2 555.7,800.5 556.6,798.9 557.6,797.3 558.7,795.8 559.8,794.3 560.9,792.8 562.1,791.4 563.4,790.1 564.8,788.8 566.2,787.5 567.6,786.3 569.2,785.1 570.8,784.0 572.5,782.9 574.3,781.9 576.2,780.9 578.1,779.9 580.2,779.0 582.4,778.1 584.7,777.2 587.1,776.4 589.6,775.5 592.2,774.7 595.0,773.9 597.9,773.1 601.0,772.3 604.2,771.5 607.6,770.8 611.1,770.0 614.8,769.2 618.8,768.3 622.9,767.5 627.2,766.7 631.7,765.8 636.4,764.9 641.4,764.0 646.7,763.0 652.2,762.1 657.9,761.0 664.0,760.0 670.4,758.9 677.0,757.7 684.1,756.6 691.4,755.3 699.2,754.0 707.3,752.7 715.8,751.3 724.8,749.9 734.2,748.5 744.1,746.9 754.4,745.4 765.3,743.8 776.7,742.1 788.7,740.5 801.3,738.7 814.6,737.0 828.5,735.2 843.1,733.4 858.4,731.6 874.5,729.7 891.3,727.9 909.1,726.0 927.7,724.1 947.2,722.3 967.8,720.5 989.3,718.7 1012.0,717.0 1035.7,715.3 1060.7,713.6 1086.9,712.1 1114.4,710.6 1143.3,709.3 1154.4,708.8" fill="none" stroke="#000" stroke-width="1.6" stroke-linejoin="round" />
<rect x="536.1" y="767.5" width="11" height="11" fill="#000" stroke="none" stroke-width="0"/>
<rect x="537.4" y="766.3" width="11" height="11" fill="#000" stroke="none" stroke-width="0"/>
<rect x="539.0" y="765.0" width="11" height="11" fill="#000" stroke="none" stroke-width="0"/>
<rect x="541.0" y="763.5" width="11" height="11" fill="#000" stroke="none" stroke-width="0"/>
<rect x="543.5" y="762.0" width="11" height="11" fill="#000" stroke="none" stroke-width="0"/>
<rect x="546.7" y="760.6" width="11" height="11" fill="#000" stroke="none" stroke-width="0"/>
<rect x="550.7" y="759.1" width="11" height="11" fill="#000" stroke="none" stroke-width="0"/>
<rect x="555.8" y="757.5" width="11" height="11" fill="#000" stroke="none" stroke-width="0"/>
<rect x="562.2" y="755.2" width="11" height="11" fill="#000" stroke="none" stroke-width="0"/>
<rect x="570.2" y="753.4" width="11" height="11" fill="#000" stroke="none" stroke-width="0"/>
<rect x="580.3" y="751.6" width="11" height="11" fill="#000" stroke="none" stroke-width="0"/>
<rect x="593.0" y="744.6" width="11" height="11" fill="#000" stroke="none" stroke-width="0"/>
<rect x="609.0" y="743.7" width="11" height="11" fill="#000" stroke="none" stroke-width="0"/>
<rect x="629.1" y="734.7" width="11" height="11" fill="#000" stroke="none" stroke-width="0"/>
<rect x="654.5" y="729.0" width="11" height="11" fill="#000" stroke="none" stroke-width="0"/>
<rect x="686.4" y="723.0" width="11" height="11" fill="#000" stroke="none" stroke-width="0"/>
<rect x="726.5" y="716.2" width="11" height="11" fill="#000" stroke="none" stroke-width="0"/>
<rect x="777.1" y="707.8" width="11" height="11" fill="#000" stroke="none" stroke-width="0"/>
<rect x="840.8" y="699.6" width="11" height="11" fill="#000" stroke="none" stroke-width="0"/>
<rect x="921.0" y="693.4" width="11" height="11" fill="#000" stroke="none" stroke-width="0"/>
<rect x="1021.9" y="681.2" width="11" height="11" fill="#000" stroke="none" stroke-width="0"/>
<rect x="1148.9" y="671.4" width="11" height="11" fill="#000" stroke="none" stroke-width="0"/>
<polygon points="541.6,834.6 547.9,845.1 535.4,845.1" fill="#000" stroke="none" stroke-width="0"/>
<polygon points="542.9,833.0 549.1,843.5 536.6,843.5" fill="#000" stroke="none" stroke-width="0"/>
<polygon points="544.5,829.6 550.7,840.1 538.2,840.1" fill="#000" stroke="none" stroke-width="0"/>
<polygon points="546.5,818.9 552.7,829.4 540.2,829.4" fill="#000" stroke="none" stroke-width="0"/>
<polygon points="549.0,808.8 555.3,819.3 542.8,819.3" fill="#000" stroke="none" stroke-width="0"/>
<polygon points="552.2,800.3 558.5,810.8 546.0,810.8" fill="#000" stroke="none" stroke-width="0"/>
<polygon points="556.2,792.7 562.5,803.2 550.0,803.2" fill="#000" stroke="none" stroke-width="0"/>
<polygon points="561.3,786.7 567.5,797.2 555.0,797.2" fill="#000" stroke="none" stroke-width="0"/>
<polygon points="567.7,780.4 573.9,790.9 561.4,790.9" fill="#000" stroke="none" stroke-width="0"/>
<polygon points="575.7,775.4 581.9,785.9 569.4,785.9" fill="#000" stroke="none" stroke-width="0"/>
<polygon points="585.8,771.3 592.0,781.8 579.5,781.8" fill="#000" stroke="none" stroke-width="0"/>
<polygon points="598.5,766.6 604.7,777.1 592.2,777.1" fill="#000" stroke="none" stroke-width="0"/>
<polygon points="614.5,762.3 620.7,772.8 608.2,772.8" fill="#000" stroke="none" stroke-width="0"/>
<polygon points="634.6,760.5 640.9,771.0 628.4,771.0" fill="#000" stroke="none" stroke-width="0"/>
<polygon points="660.0,752.6 666.2,763.1 653.7,763.1" fill="#000" stroke="none" stroke-width="0"/>
<polygon points="691.9,748.9 698.1,759.4 685.6,759.4" fill="#000" stroke="none" stroke-width="0"/>
<polygon points="732.0,741.5 738.3,752.0 725.8,752.0" fill="#000" stroke="none" stroke-width="0"/>
<polygon points="782.6,736.0 788.9,746.5 776.4,746.5" fill="#000" stroke="none" stroke-width="0"/>
<polygon points="846.3,726.7 852.5,737.2 840.0,737.2" fill="#000" stroke="none" stroke-width="0"/>
<polygon points="926.5,718.1 932.7,728.6 920.2,728.6" fill="#000" stroke="none" stroke-width="0"/>
<polygon points="1027.4,710.0 1033.6,720.5 1021.1,720.5" fill="#000" stroke="none" stroke-width="0"/>
<polygon points="1154.4,702.0 1160.7,712.5 1148.2,712.5" fill="#000" stroke="none" stroke-width="0"/>
<line x1="769.0" y1="615.9" x2="822.0" y2="615.9" stroke="#000" stroke-width="1.8"/>
<rect x="788.0" y="610.9" width="10" height="10" fill="#000" stroke="none" stroke-width="0"/>
<text x="825.5" y="622.6" font-family="Liberation Serif, Times New Roman, serif" font-size="20.5" font-weight="normal" fill="#111" text-anchor="start" textLength="62" lengthAdjust="spacingAndGlyphs" >Control</text>
<line x1="906.0" y1="615.9" x2="957.0" y2="615.9" stroke="#000" stroke-width="1.8"/>
<polygon points="930.5,610.5 936.5,620.5 924.5,620.5" fill="#000" stroke="none" stroke-width="0"/>
<text x="966.5" y="622.6" font-family="Liberation Serif, Times New Roman, serif" font-size="20" font-weight="normal" fill="#111" text-anchor="start" >PEF</text>
</svg>
</body></html>
